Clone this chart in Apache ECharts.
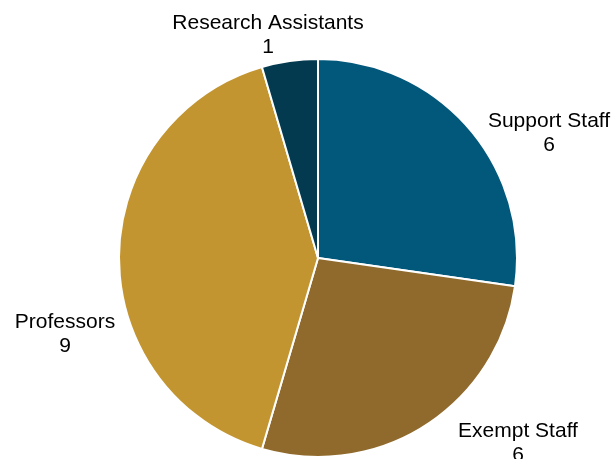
<!DOCTYPE html>
<html>
<head>
<meta charset="utf-8">
<script src="https://cdn.jsdelivr.net/npm/echarts@6/dist/echarts.min.js"></script>
<style>
  html, body { margin: 0; padding: 0; background: #ffffff; }
  #chart { width: 616px; height: 459px; }
</style>
</head>
<body>
<div id="chart"></div>
<script>
// Staff headcount by role
const categories = ['Support Staff', 'Exempt Staff', 'Professors', 'Research Assistants'];
const counts = [6, 6, 9, 1];
const colors = ['#02587B', '#8F6A2C', '#C39530', '#033A4F'];

// Where each two-line label block is centred
const labelSpots = [[549, 133], [518, 443], [65, 334], [268, 35]];

const chart = echarts.init(document.getElementById('chart'), null, { renderer: 'canvas' });

chart.setOption({
  animation: false,
  backgroundColor: '#ffffff',
  series: [{
    type: 'pie',
    center: [318, 258],
    radius: 199,
    startAngle: 90,
    clockwise: true,
    data: categories.map((name, i) => ({
      name,
      value: counts[i],
      itemStyle: { color: colors[i] }
    })),
    itemStyle: { borderColor: '#ffffff', borderWidth: 2 },
    label: {
      show: true,
      position: 'outside',
      formatter: '{b}\n{c}',
      fontFamily: 'Liberation Sans, Arial, sans-serif',
      fontSize: 21,
      lineHeight: 24,
      color: '#000000',
      align: 'center',
      overflow: 'none',
      width: 300
    },
    labelLine: { show: false },
    labelLayout: function (params) {
      const p = labelSpots[params.dataIndex];
      return { x: p[0], y: p[1], align: 'center', verticalAlign: 'middle' };
    },
    emphasis: { disabled: true }
  }]
});
</script>
</body>
</html>
